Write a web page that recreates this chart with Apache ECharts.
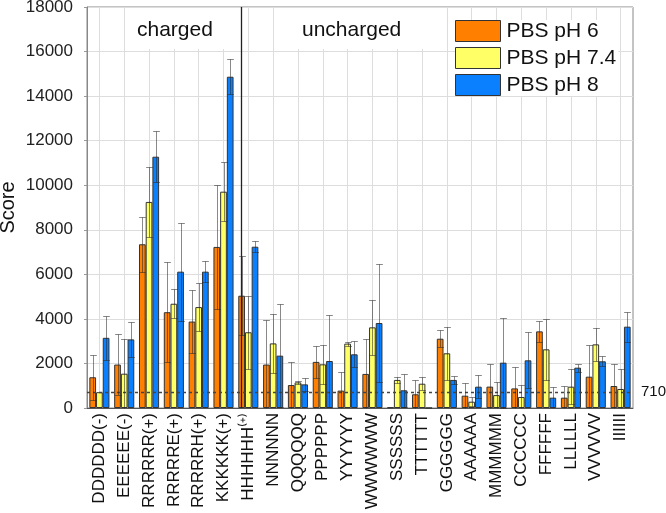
<!DOCTYPE html>
<html>
<head>
<meta charset="utf-8">
<script src="https://cdn.jsdelivr.net/npm/echarts@6/dist/echarts.min.js"></script>
<style>html,body{margin:0;padding:0;background:#fff;}#c{width:666px;height:513px;}</style>
</head>
<body>
<div id="c"></div>
<script>
const categories = ['DDDDDD(-)','EEEEEE(-)','RRRRRR(+)','RRRRRE(+)','RRRRRH(+)','KKKKKK(+)','HHHHHH⁽⁺⁾','NNNNNN','QQQQQQ','PPPPPP','YYYYYY','WWWWWW','SSSSSS','TTTTTT','GGGGGG','AAAAAA','MMMMMM','CCCCCC','FFFFFF','LLLLLL','VVVVVV','IIIIII'];
const seriesNames = ['PBS pH 6','PBS pH 7.4','PBS pH 8'];
const ph6 =    [1380, 1950, 7350, 4300, 3880, 7230, 5040, 1950, 1030, 2070, 780, 1530, 30, 615, 3110, 553, 960, 880, 3440, 464, 1405, 987];
const ph6Err = [1020, 1370, 1240, 2240, 1400, 2780, 1770, 2000, 1040, 720, 850, 1570, 0, 640, 390, 585, 1000, 945, 485, 540, 1410, 990];
const ph74 =    [710, 1540, 9250, 4680, 4530, 9710, 3400, 2900, 1150, 1960, 2890, 3620, 1260, 1090, 2455, 283, 580, 494, 2633, 957, 2857, 853];
const ph74Err = [0, 1570, 1590, 660, 1070, 1330, 1640, 1330, 60, 890, 90, 1230, 130, 280, 1200, 200, 600, 550, 1375, 790, 725, 910];
const ph8 =    [3150, 3080, 11280, 6120, 6120, 14870, 7240, 2350, 1060, 2110, 2410, 3815, 795, 0, 1260, 957, 2035, 2140, 464, 1810, 2096, 3650];
const ph8Err = [990, 770, 1150, 2200, 470, 790, 245, 2320, 300, 2080, 590, 2630, 745, 0, 190, 515, 2020, 1255, 490, 180, 230, 675];
const yTicks = {min: 0, max: 18000, interval: 2000};
const threshold = 710;
const groupLabels = ['charged', 'uncharged'];

const colors = ['#FF7F00', '#FFFF66', '#0A80FF'];
const groupFrac = 0.81;
const values = [ph6, ph74, ph8];
const errs = [ph6Err, ph74Err, ph8Err];

const chart = echarts.init(document.getElementById('c'), null, {renderer: 'canvas'});

function errSeries(k) {
  return {
    type: 'custom',
    name: 'err' + k,
    z: 5,
    silent: true,
    data: values[k].map((v, i) => [i, v, errs[k][i]]),
    renderItem: function (params, api) {
      const i = api.value(0), v = api.value(1), e = api.value(2);
      if (!e) return null;
      const cw = api.size([1, 0])[0];
      const gw = cw * groupFrac;
      const bw = gw / 3;
      const c = api.coord([i, v]);
      const x = Math.round(c[0] - gw / 2 + bw * (k + 0.5)) + 0.5;
      const hi = Math.round(api.coord([i, v + e])[1]) + 0.5;
      const loV = v - e;
      const lo = Math.round(api.coord([i, Math.max(0, loV)])[1]) + 0.5;
      const cap = bw * 0.5;
      const st = {stroke: 'rgba(40,40,40,0.55)', lineWidth: 1};
      const children = [
        {type: 'line', shape: {x1: x, y1: hi, x2: x, y2: lo}, style: st},
        {type: 'line', shape: {x1: x - cap, y1: hi, x2: x + cap, y2: hi}, style: st}
      ];
      if (loV > 0) children.push({type: 'line', shape: {x1: x - cap, y1: lo, x2: x + cap, y2: lo}, style: st});
      return {type: 'group', children: children};
    }
  };
}

const barSeries = seriesNames.map((n, k) => ({
  type: 'bar',
  name: n,
  data: values[k],
  barGap: '0%',
  barCategoryGap: '19%',
  itemStyle: {color: colors[k], borderColor: '#333', borderWidth: 1},
  z: 3
}));

barSeries[0].markLine = {
  silent: true,
  symbol: 'none',
  animation: false,
  data: [
    {yAxis: threshold, lineStyle: {color: '#444', type: [3, 3], width: 1.3},
     label: {show: true, position: 'end', formatter: String(threshold), fontSize: 15, color: '#111', fontFamily: 'Liberation Sans', distance: 8}},
    {xAxis: categories[6], lineStyle: {color: '#222', type: 'solid', width: 1.3}, label: {show: false}}
  ]
};

const option = {
  animation: false,
  textStyle: {fontFamily: 'Liberation Sans'},
  grid: {left: 87, right: 33, top: 7, bottom: 105, show: true, borderColor: '#888', borderWidth: 1, containLabel: false, outerBoundsMode: 'none'},
  legend: {
    data: seriesNames,
    orient: 'vertical',
    left: 455, top: 20,
    itemWidth: 45, itemHeight: 21, itemGap: 5,
    backgroundColor: '#fff',
    padding: [0, 2, 0, 0],
    textStyle: {fontSize: 21, color: '#111', fontFamily: 'Liberation Sans', padding: [0, 0, 0, 1]},
    icon: 'rect',
    itemStyle: {borderColor: '#333', borderWidth: 1}
  },
  xAxis: {
    type: 'category',
    data: categories,
    boundaryGap: true,
    axisLine: {lineStyle: {color: '#555'}},
    axisTick: {show: false},
    axisLabel: {rotate: 90, fontSize: 17, color: '#111', margin: 5, interval: 0, fontFamily: 'Liberation Sans'},
    splitLine: {show: true, alignWithLabel: true, lineStyle: {color: '#ddd'}}
  },
  yAxis: {
    type: 'value',
    min: yTicks.min, max: yTicks.max, interval: yTicks.interval,
    name: 'Score', nameLocation: 'middle', nameGap: 69, nameMoveOverlap: false,
    nameTextStyle: {fontSize: 20, color: '#111', fontFamily: 'Liberation Sans'},
    axisLine: {show: true, lineStyle: {color: '#888'}},
    axisTick: {show: true, length: 3, lineStyle: {color: '#999'}},
    axisLabel: {fontSize: 17, color: '#222', margin: 14, fontFamily: 'Liberation Sans', formatter: v => String(v)},
    splitLine: {show: true, lineStyle: {color: '#ddd'}}
  },
  graphic: [
    {type: 'text', left: 125, top: 8, z: 20,
     style: {text: groupLabels[0], font: '21px "Liberation Sans"', fill: '#111', backgroundColor: '#fff', padding: [12, 20, 8, 12]}},
    {type: 'text', left: 275, top: 8, z: 20,
     style: {text: groupLabels[1], font: '21px "Liberation Sans"', fill: '#111', backgroundColor: '#fff', padding: [12, 26, 8, 27]}}
  ],
  series: barSeries.concat([errSeries(0), errSeries(1), errSeries(2)])
};
chart.setOption(option);
</script>
</body>
</html>
